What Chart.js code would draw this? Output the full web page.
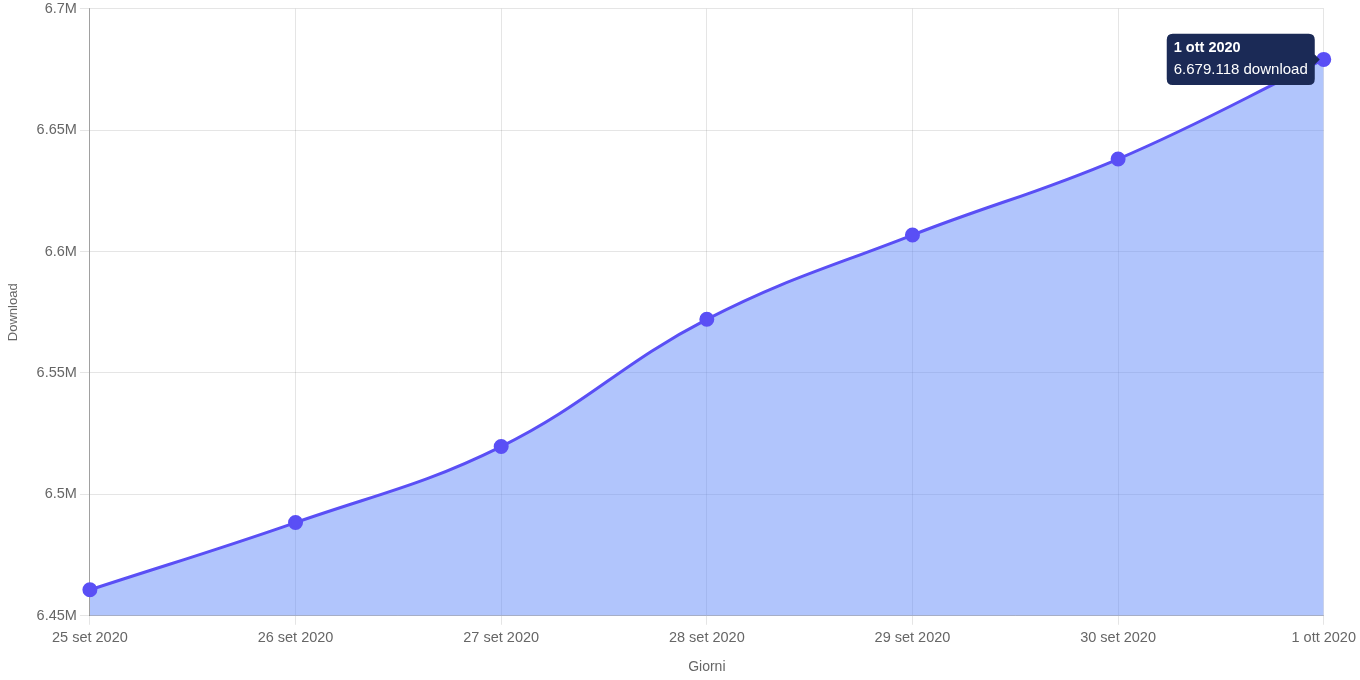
<!DOCTYPE html>
<html>
<head>
<meta charset="utf-8">
<script src="https://cdn.jsdelivr.net/npm/chart.js@4/dist/chart.umd.min.js"></script>
<style>
    html, body { margin: 0; padding: 0; background: #fff; overflow: hidden; }
    #wrap { width: 1360px; height: 683px; margin-top: -3px; }
</style>
</head>
<body>
<div id="wrap"><canvas id="Download-Chart"></canvas></div>
<script>
// values
var giorni = ['25 set 2020', '26 set 2020', '27 set 2020', '28 set 2020', '29 set 2020', '30 set 2020', '1 ott 2020'];
var downloads = [6460700, 6488400, 6519700, 6572100, 6606800, 6638100, 6679118];
var yMin = 6450000;
var yMax = 6700000;
var yStep = 50000;

function formatIt(n) {
    return String(Math.round(n)).replace(/\B(?=(\d{3})+(?!\d))/g, '.');
}

Chart.defaults.font.family = "'Liberation Sans', Arial, sans-serif";
Chart.defaults.color = '#666';

var ctx = document.getElementById('Download-Chart').getContext('2d');

var chart = new Chart(ctx, {
    type: 'line',
    data: {
        labels: giorni,
        datasets: [{
            label: 'Download',
            data: downloads,
            fill: true,
            backgroundColor: 'rgba(100, 140, 250, 0.5)',
            borderColor: '#5a4ff5',
            borderWidth: 3,
            pointBackgroundColor: '#5a4ff5',
            pointBorderColor: '#5a4ff5',
            pointRadius: 6,
            pointHoverRadius: 6,
            tension: 0.4
        }]
    },
    options: {
        responsive: true,
        maintainAspectRatio: false,
        animation: false,
        layout: { padding: { top: 0, right: 6, left: 2, bottom: 0 } },
        plugins: {
            legend: { display: false },
            tooltip: {
                backgroundColor: '#1b2a56',
                displayColors: false,
                titleFont: { size: 14.5, weight: 'bold' },
                bodyFont: { size: 15 },
                titleMarginBottom: 4,
                padding: { left: 7, right: 7, top: 6, bottom: 6 },
                caretPadding: 4,
                callbacks: {
                    label: function (item) {
                        return formatIt(item.raw) + ' download';
                    }
                }
            }
        },
        scales: {
            x: {
                title: { display: true, text: 'Giorni', font: { size: 14 }, padding: { top: 9, bottom: 4 } },
                ticks: { font: { size: 14.5 }, maxRotation: 0, padding: 4 },
                border: { color: 'rgba(0,0,0,0.2)' },
                grid: { color: 'rgba(0,0,0,0.1)', tickLength: 9 }
            },
            y: {
                min: yMin,
                max: yMax,
                title: { display: true, text: 'Download', font: { size: 13 }, padding: { top: 4, bottom: 12 } },
                ticks: {
                    stepSize: yStep,
                    font: { size: 14.5 },
                    padding: 3,
                    callback: function (v) {
                        return (Math.round(v / 10000) / 100) + 'M';
                    }
                },
                border: { color: 'rgba(0,0,0,0.3)' },
                grid: { color: 'rgba(0,0,0,0.1)', tickLength: 10 }
            }
        }
    }
});

var last = downloads.length - 1;
var pt = chart.getDatasetMeta(0).data[last];
chart.tooltip.setActiveElements([{ datasetIndex: 0, index: last }], { x: pt.x, y: pt.y });
chart.update();
</script>
</body>
</html>
